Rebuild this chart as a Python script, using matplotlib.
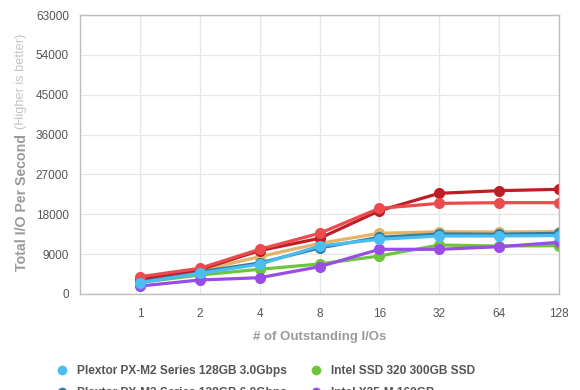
import matplotlib
matplotlib.use("Agg")
import matplotlib.pyplot as plt
from matplotlib.lines import Line2D

plt.rcParams['font.family'] = ['Liberation Sans', 'DejaVu Sans']

# данные
queue_depths = ["1", "2", "4", "8", "16", "32", "64", "128"]

plextor_3g = [2550, 4670, 6700, 10840, 12350, 13100, 13100, 13200]
plextor_6g = [2900, 5000, 7000, 10400, 12800, 13550, 13500, 13700]
corsair = [3300, 5300, 8420, 11440, 13700, 14070, 14000, 14100]
vertex = [3900, 5800, 10090, 13700, 19350, 20470, 20620, 20620]
intel_320 = [2600, 4290, 5580, 6770, 8580, 11060, 10840, 10900]
intel_x25 = [1800, 3160, 3680, 6170, 10090, 10090, 10680, 11670]
crucial = [3500, 5500, 9800, 12570, 18800, 22740, 23330, 23640]

series = [
    ("Plextor PX-M2 Series 128GB 3.0Gbps", plextor_3g, "#4cbdf0"),
    ("Plextor PX-M2 Series 128GB 6.0Gbps", plextor_6g, "#2b7ea6"),
    ("Corsair Force GT 120GB", corsair, "#e6b266"),
    ("OCZ Vertex 3 240GB", vertex, "#eb4b4d"),
    ("Intel SSD 320 300GB SSD", intel_320, "#6cc53c"),
    ("Intel X25-M 160GB", intel_x25, "#9a4de6"),
    ("Crucial m4 256GB", crucial, "#bf1d24"),
]

# порядок отрисовки (снизу вверх)
draw_order = [4, 5, 2, 1, 6, 3, 0]

fig = plt.figure(figsize=(5.8, 3.9), dpi=100)
ax = fig.add_axes([80 / 580, 1 - 294 / 390, 479 / 580, 279 / 390])

xs = list(range(len(queue_depths)))
for i in draw_order:
    name, vals, col = series[i]
    ax.plot(xs, vals, color=col, lw=2.3, marker="o", ms=8,
            markeredgewidth=0, solid_joinstyle="round")

ax.set_xlim(-1, len(queue_depths) - 1)
ax.set_ylim(0, 63000)
ax.set_yticks(range(0, 63001, 9000))
ax.set_xticks(xs)
ax.set_xticklabels(queue_depths)
ax.tick_params(length=0, labelsize=8.5, colors="#555555")
ax.tick_params(axis="x", pad=10)
ax.tick_params(axis="y", pad=8)
ax.grid(True, color="#e6e6e6", lw=0.9)
ax.set_axisbelow(True)
for s in ax.spines.values():
    s.set_color("#bdbdbd")
    s.set_linewidth(1.0)

ax.set_xlabel("# of Outstanding I/Os", fontsize=9.5, color="#9a9a9a",
              fontweight="bold", labelpad=8)

fig.text(22 / 580, 1 - 271 / 390, "Total I/O Per Second", rotation=90,
         ha="center", va="bottom", fontsize=10.2, color="#9a9a9a", fontweight="bold")
fig.text(21 / 580, 1 - 129 / 390, "(Higher is better)", rotation=90,
         ha="center", va="bottom", fontsize=9.2, color="#c4c4c4")

# легенда: только кружки
proxies = [Line2D([], [], ls="none", marker="o", ms=7, markeredgewidth=0,
                  color=col) for _, _, col in series]
fig.legend(proxies, [name for name, _, _ in series],
           loc="upper left", bbox_to_anchor=(52 / 580, 1 - 360 / 390),
           borderaxespad=0, ncol=2, frameon=False, handlelength=0.8,
           handletextpad=0.9, columnspacing=2.0, labelspacing=0.85,
           labelcolor="#555555", prop={"weight": "bold", "size": 8.6})

fig.savefig("out.png", dpi=100)
